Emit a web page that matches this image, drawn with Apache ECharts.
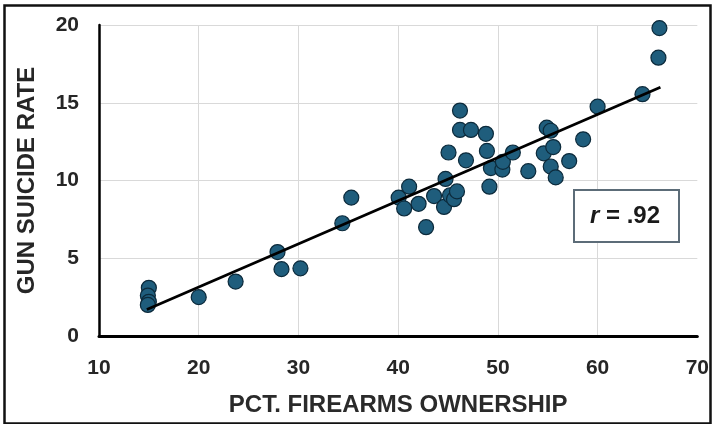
<!DOCTYPE html>
<html>
<head>
<meta charset="utf-8">
<script src="https://cdn.jsdelivr.net/npm/echarts@6/dist/echarts.min.js"></script>
<style>html,body{margin:0;padding:0;background:#fff;}#c{width:712px;height:424px;}</style>
</head>
<body>
<div id="c"></div>
<script>
var ownership = [15.0,14.9,15.0,14.9,20.0,23.7,27.9,28.3,30.2,34.4,35.3,40.05,40.6,41.1,42.05,42.8,43.6,44.6,44.75,45.05,45.2,45.6,45.9,46.2,46.2,47.3,46.8,48.8,48.9,49.3,49.15,50.45,50.5,51.5,53.05,54.6,54.9,55.3,55.55,55.3,55.8,57.15,58.55,60.0,64.5,66.1,66.2];
var suicideRate = [3.1,2.6,2.2,2.0,2.5,3.5,5.4,4.3,4.35,7.25,8.9,8.9,8.2,9.6,8.5,7.0,9.0,8.3,10.1,11.8,9.05,8.8,9.3,14.5,13.25,13.25,11.3,13.0,11.9,10.8,9.6,10.7,11.2,11.8,10.6,11.75,13.4,13.2,12.15,10.9,10.2,11.25,12.65,14.75,15.55,17.9,19.8];
var trendX = [14.8, 66.3];
var trendY = [1.7, 16.0];
var xTicks = [10,20,30,40,50,60,70];
var yTicks = [0,5,10,15,20];
var rLabel = ['r', ' = .92'];

var points = ownership.map(function(x,i){return [x, suicideRate[i]];});
var trend = trendX.map(function(x,i){return [x, trendY[i]];});

var chart = echarts.init(document.getElementById('c'), null, {renderer:'canvas'});
var font = 'Liberation Sans, Arial, sans-serif';
chart.setOption({
  animation: false,
  grid: {left: 99, right: 13, top: 25, bottom: 88, containLabel: false},
  xAxis: {
    type: 'value', min: xTicks[0], max: xTicks[xTicks.length-1], interval: 10,
    name: 'PCT. FIREARMS OWNERSHIP', nameLocation: 'middle', nameGap: 57,
    nameTextStyle: {fontFamily: font, fontSize: 24, fontWeight: 'bold', color: '#2a2a2a'},
    axisLine: {show: true, onZero: false, lineStyle: {color: '#000', width: 3}},
    axisTick: {show: false},
    axisLabel: {fontFamily: font, fontWeight: 'bold', fontSize: 21, color: '#262626', margin: 22},
    splitLine: {show: true, showMaxLine: false, lineStyle: {color: '#d9d9d9', width: 1}}
  },
  yAxis: {
    type: 'value', min: yTicks[0], max: yTicks[yTicks.length-1], interval: 5,
    name: 'GUN SUICIDE RATE', nameLocation: 'middle', nameGap: 60, nameRotate: 90,
    nameTextStyle: {fontFamily: font, fontSize: 24, fontWeight: 'bold', color: '#262626'},
    axisLine: {show: true, lineStyle: {color: '#000', width: 2.5}},
    axisTick: {show: false},
    axisLabel: {fontFamily: font, fontWeight: 'bold', fontSize: 21, color: '#262626', margin: 20},
    splitLine: {show: true, lineStyle: {color: '#d9d9d9', width: 1}}
  },
  series: [
    {
      type: 'scatter', data: points, symbolSize: 15, z: 3,
      itemStyle: {color: '#1f5d7c', borderColor: '#0c2a3b', borderWidth: 1.2, opacity: 1}
    },
    {
      type: 'line', data: trend, symbol: 'none', z: 4,
      lineStyle: {color: '#000', width: 2.8}
    }
  ],
  graphic: [
    {type: 'rect', left: 2, top: 3, shape: {width: 706, height: 418},
     style: {fill: 'none', stroke: '#111', lineWidth: 2.5}, silent: true},
    {type: 'rect', left: 573, top: 189, shape: {width: 105, height: 52},
     style: {fill: '#fff', stroke: '#5c6c78', lineWidth: 2}, z: 10},
    {type: 'text', x: 625, y: 216, z: 11,
     style: {align: 'center', verticalAlign: 'middle',
             rich: {i: {fontStyle: 'italic', fontWeight: 'bold', fontFamily: font, fontSize: 24, fill: '#1a1a1a'},
                    n: {fontWeight: 'bold', fontFamily: font, fontSize: 24, fill: '#1a1a1a'}},
             text: '{i|' + rLabel[0] + '}{n|' + rLabel[1] + '}'}}
  ]
});
</script>
</body>
</html>
